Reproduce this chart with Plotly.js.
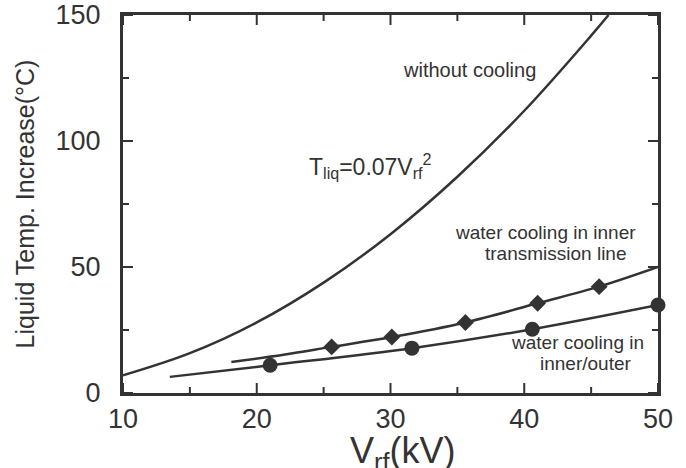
<!DOCTYPE html>
<html>
<head>
<meta charset="utf-8">
<script src="https://cdn.plot.ly/plotly-3.0.1.min.js"></script>
<style>
html,body{margin:0;padding:0;background:#fff;}
#chart{width:686px;height:468px;}
</style>
</head>
<body>
<div id="chart"></div>
<script>
// "without cooling" curve
const vNoCool = [10, 15, 20, 25, 30, 35, 40, 45, 46.3];
const tNoCool = [7, 15.8, 28, 43.8, 63, 85.8, 112, 141.8, 150];

// water cooling in inner transmission line: measured points (diamonds)
const vInner = [25.6, 30.1, 35.6, 41, 45.6];
const tInner = [18.3, 22.2, 28, 35.6, 42.2];
// fitted line through them
const vInnerFit = [18.1, 22, 25.6, 30.1, 35.6, 41, 45.6, 50];
const tInnerFit = [12.3, 15.2, 18.3, 22.2, 28, 35.6, 42.2, 50];

// water cooling in inner/outer: measured points (circles)
const vBoth = [21, 31.6, 40.6, 50];
const tBoth = [11, 17.8, 25.3, 34.9];
// fitted line
const vBothFit = [13.5, 21, 31.6, 40.6, 50];
const tBothFit = [6.4, 11, 17.8, 25.3, 34.9];

// axis ticks
const xTicks = [10, 20, 30, 40, 50];
const xMinorTicks = [15, 25, 35, 45];
const yTicks = [0, 50, 100, 150];
const yMinorTicks = [25, 75, 125];

const ink = '#333333';
const fam = '"Liberation Sans", Arial, Helvetica, sans-serif';

const xMin = xTicks[0], xMax = xTicks[xTicks.length - 1];
const yMin = yTicks[0], yMax = yTicks[yTicks.length - 1];

const W = 686, H = 468, M = {l: 123, r: 28, t: 15, b: 75};
const plotW = W - M.l - M.r, plotH = H - M.t - M.b;

// inward tick marks on all four sides (axis decoration, placed on the axis scale)
const shapes = [];
function addXTicks(vals, len) {
  const f = len / plotH;
  vals.forEach(v => {
    shapes.push({type: 'line', xref: 'x', yref: 'paper', x0: v, x1: v, y0: 0, y1: f, line: {color: ink, width: 2}, layer: 'above'});
    shapes.push({type: 'line', xref: 'x', yref: 'paper', x0: v, x1: v, y0: 1, y1: 1 - f, line: {color: ink, width: 2}, layer: 'above'});
  });
}
function addYTicks(vals, len) {
  const f = len / plotW;
  vals.forEach(v => {
    shapes.push({type: 'line', xref: 'paper', yref: 'y', x0: 0, x1: f, y0: v, y1: v, line: {color: ink, width: 2}, layer: 'above'});
    shapes.push({type: 'line', xref: 'paper', yref: 'y', x0: 1, x1: 1 - f, y0: v, y1: v, line: {color: ink, width: 2}, layer: 'above'});
  });
}
addXTicks(xTicks, 10); addXTicks(xMinorTicks, 6);
addYTicks(yTicks, 10); addYTicks(yMinorTicks, 6);

const traces = [
  {x: vNoCool, y: tNoCool, mode: 'lines', line: {color: ink, width: 2.5, shape: 'spline'}},
  {x: vInnerFit, y: tInnerFit, mode: 'lines', line: {color: ink, width: 2.5, shape: 'spline'}},
  {x: vBothFit, y: tBothFit, mode: 'lines', line: {color: ink, width: 2.5, shape: 'spline'}},
  {x: vInner, y: tInner, mode: 'markers', marker: {symbol: 'diamond', size: 13, color: ink}, cliponaxis: false},
  {x: vBoth, y: tBoth, mode: 'markers', marker: {symbol: 'circle', size: 15, color: ink}, cliponaxis: false}
];

const layout = {
  width: W, height: H,
  margin: M,
  paper_bgcolor: '#ffffff', plot_bgcolor: '#ffffff',
  showlegend: false,
  font: {family: fam, color: ink},
  shapes: shapes,
  xaxis: {
    range: [xMin, xMax], tickmode: 'array', tickvals: xTicks, ticktext: xTicks.map(String),
    showline: true, linecolor: ink, linewidth: 3, mirror: true,
    ticks: '', showgrid: false, zeroline: false,
    tickfont: {family: fam, size: 27, color: ink}
  },
  yaxis: {
    range: [yMin, yMax], tickmode: 'array', tickvals: yTicks, ticktext: yTicks.map(String),
    showline: true, linecolor: ink, linewidth: 3, mirror: true,
    ticks: '', showgrid: false, zeroline: false,
    ticklabelstandoff: 14,
    tickfont: {family: fam, size: 27, color: ink},
    title: {text: 'Liquid Temp. Increase(°C)', font: {family: fam, size: 25, color: ink}, standoff: 14}
  },
  annotations: [
    {x: 0.5215, y: -0.158, xref: 'paper', yref: 'paper', text: 'V<sub>rf</sub>(kV)', showarrow: false,
     font: {family: fam, size: 36, color: ink}, xanchor: 'center', yanchor: 'middle'},
    {x: 35.9, y: 128.2, xref: 'x', yref: 'y', text: 'without cooling', showarrow: false,
     font: {family: fam, size: 20, color: ink}, xanchor: 'center', yanchor: 'middle'},
    {x: 28.5, y: 90, xref: 'x', yref: 'y', text: 'T<sub>liq</sub>=0.07V<sub>rf</sub><sup>2</sup>', showarrow: false,
     font: {family: fam, size: 23, color: ink}, xanchor: 'center', yanchor: 'middle'},
    {x: 41.6, y: 63.5, xref: 'x', yref: 'y', text: 'water cooling in inner', showarrow: false,
     font: {family: fam, size: 19, color: ink}, xanchor: 'center', yanchor: 'middle'},
    {x: 42.4, y: 55.5, xref: 'x', yref: 'y', text: 'transmission line', showarrow: false,
     font: {family: fam, size: 19, color: ink}, xanchor: 'center', yanchor: 'middle'},
    {x: 44.0, y: 20.2, xref: 'x', yref: 'y', text: 'water cooling in', showarrow: false,
     font: {family: fam, size: 19, color: ink}, xanchor: 'center', yanchor: 'middle'},
    {x: 44.6, y: 11.9, xref: 'x', yref: 'y', text: 'inner/outer', showarrow: false,
     font: {family: fam, size: 19, color: ink}, xanchor: 'center', yanchor: 'middle'}
  ]
};

Plotly.newPlot('chart', traces, layout, {displayModeBar: false, staticPlot: true});
</script>
</body>
</html>
